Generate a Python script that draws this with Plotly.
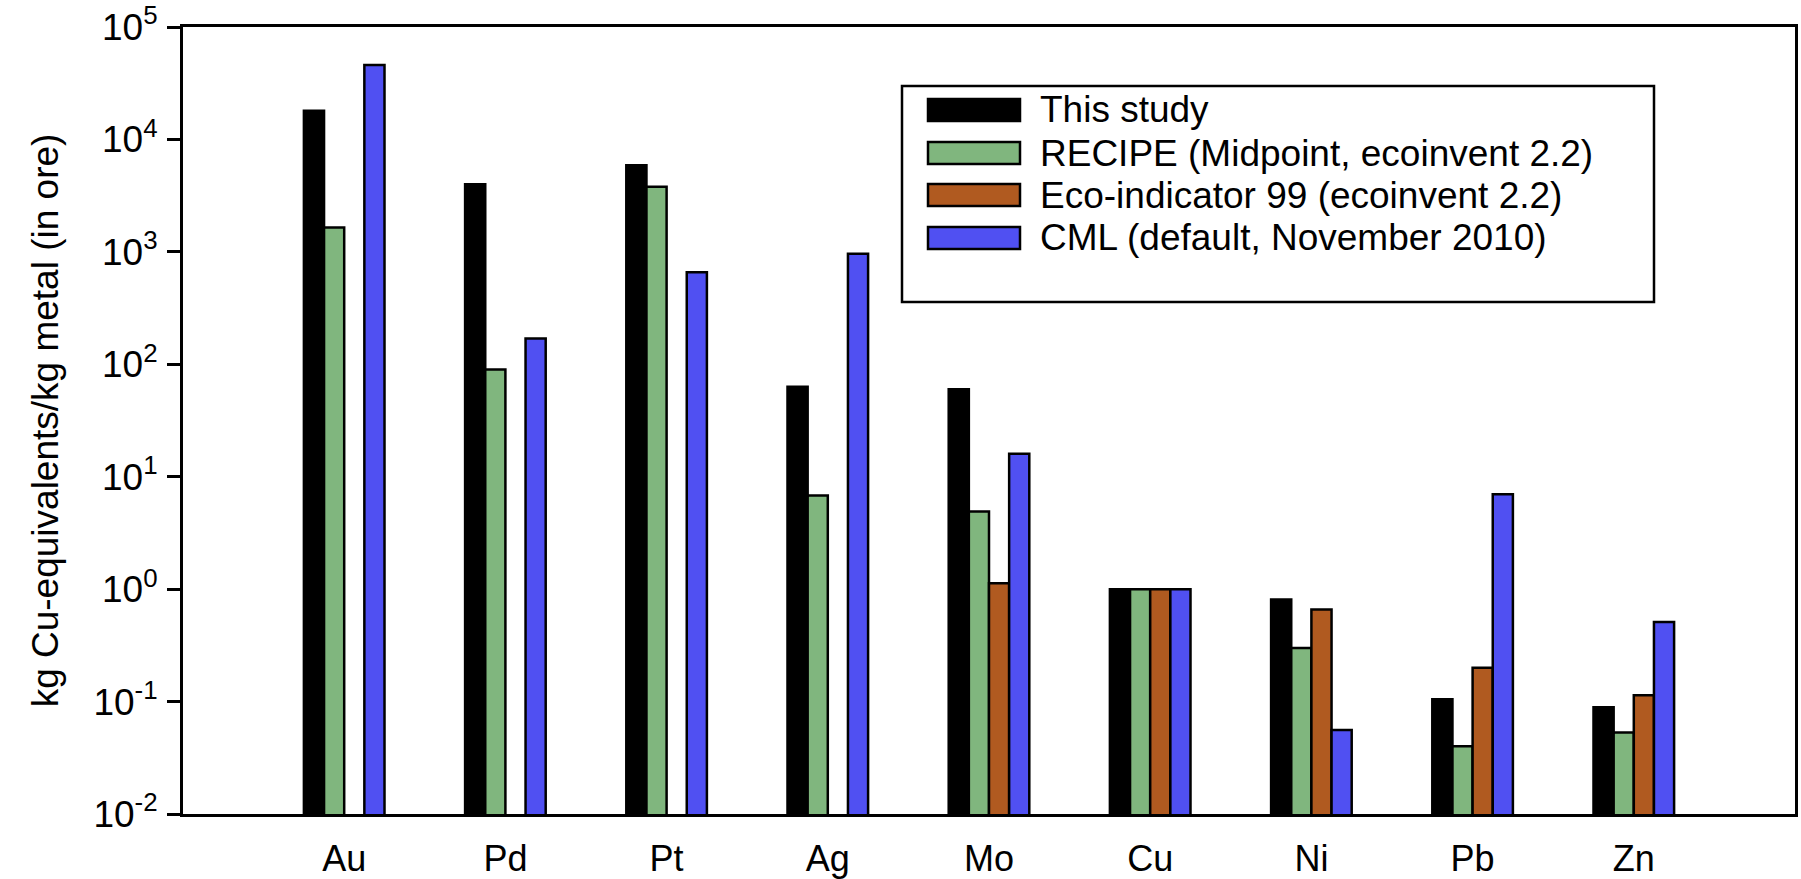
import plotly.graph_objects as go

# ---- data ----
categories = ["Au", "Pd", "Pt", "Ag", "Mo", "Cu", "Ni", "Pb", "Zn"]
series_names = [
    "This study",
    "RECIPE (Midpoint, ecoinvent 2.2)",
    "Eco-indicator 99 (ecoinvent 2.2)",
    "CML (default, November 2010)",
]
this_study = [18000, 4000, 5900, 63, 60, 1.0, 0.81, 0.105, 0.089]
recipe = [1650, 90, 3800, 6.8, 4.9, 1.0, 0.30, 0.040, 0.053]
eco_indicator = [None, None, None, None, 1.13, 1.0, 0.66, 0.20, 0.114]
cml = [46000, 170, 660, 960, 16, 1.0, 0.056, 7.0, 0.51]
series_values = [this_study, recipe, eco_indicator, cml]
series_colors = ["#000000", "#80B67E", "#B05A20", "#5050F2"]

y_tickvals = [1e-2, 1e-1, 1e0, 1e1, 1e2, 1e3, 1e4, 1e5]
y_ticktext = ["10<sup>-2</sup>", "10<sup>-1</sup>", "10<sup>0</sup>", "10<sup>1</sup>",
              "10<sup>2</sup>", "10<sup>3</sup>", "10<sup>4</sup>", "10<sup>5</sup>"]

# ---- layout geometry (pixels) ----
W, H = 1801, 879
L, R, T, B = 183, 6, 27, 65
PW, PH = W - L - R, H - T - B

def px(x):
    return (x - L) / PW

def py(y):
    return 1 - (y - T) / PH

FONT = "Liberation Sans, Arial, sans-serif"

fig = go.Figure()
for name, vals, col in zip(series_names, series_values, series_colors):
    fig.add_trace(go.Bar(
        x=categories, y=vals, name=name,
        marker=dict(color=col, line=dict(color="black", width=2.5)),
        showlegend=False,
    ))

# ---- custom legend (wide swatches) ----
shapes = [dict(type="rect", xref="paper", yref="paper",
               x0=px(902), x1=px(1654), y0=py(302), y1=py(86),
               line=dict(color="black", width=2.5), fillcolor="white", layer="above")]
annotations = []
row_y = [110, 153, 195, 238]
for name, col, yy in zip(series_names, series_colors, row_y):
    shapes.append(dict(type="rect", xref="paper", yref="paper",
                       x0=px(928), x1=px(1020), y0=py(yy + 11), y1=py(yy - 11),
                       line=dict(color="black", width=2.5), fillcolor=col, layer="above"))
    annotations.append(dict(xref="paper", yref="paper", x=px(1038), y=py(yy),
                            xanchor="left", yanchor="middle", text=name, showarrow=False,
                            font=dict(size=37, color="black", family=FONT)))

fig.update_layout(
    width=W, height=H,
    margin=dict(l=L, r=R, t=T, b=B, autoexpand=False),
    paper_bgcolor="white", plot_bgcolor="white",
    barmode="group", bargap=0.5, bargroupgap=0,
    font=dict(family=FONT, color="black", size=37),
    shapes=shapes, annotations=annotations,
)
fig.update_xaxes(
    range=[-1, 9], showline=True, linecolor="black", linewidth=3, mirror=True,
    ticks="", showgrid=False, tickfont=dict(size=36), ticklabelstandoff=11,
)
fig.update_yaxes(
    type="log", range=[-2, 5], showline=True, linecolor="black", linewidth=3, mirror=True,
    ticks="outside", ticklen=13, tickwidth=3, tickcolor="black",
    tickvals=y_tickvals, ticktext=y_ticktext, tickfont=dict(size=37),
    showgrid=False, zeroline=False, ticklabelstandoff=2,
    title=dict(text="kg Cu-equivalents/kg metal (in ore)", font=dict(size=37), standoff=24),
)

fig.write_html("out.html")
